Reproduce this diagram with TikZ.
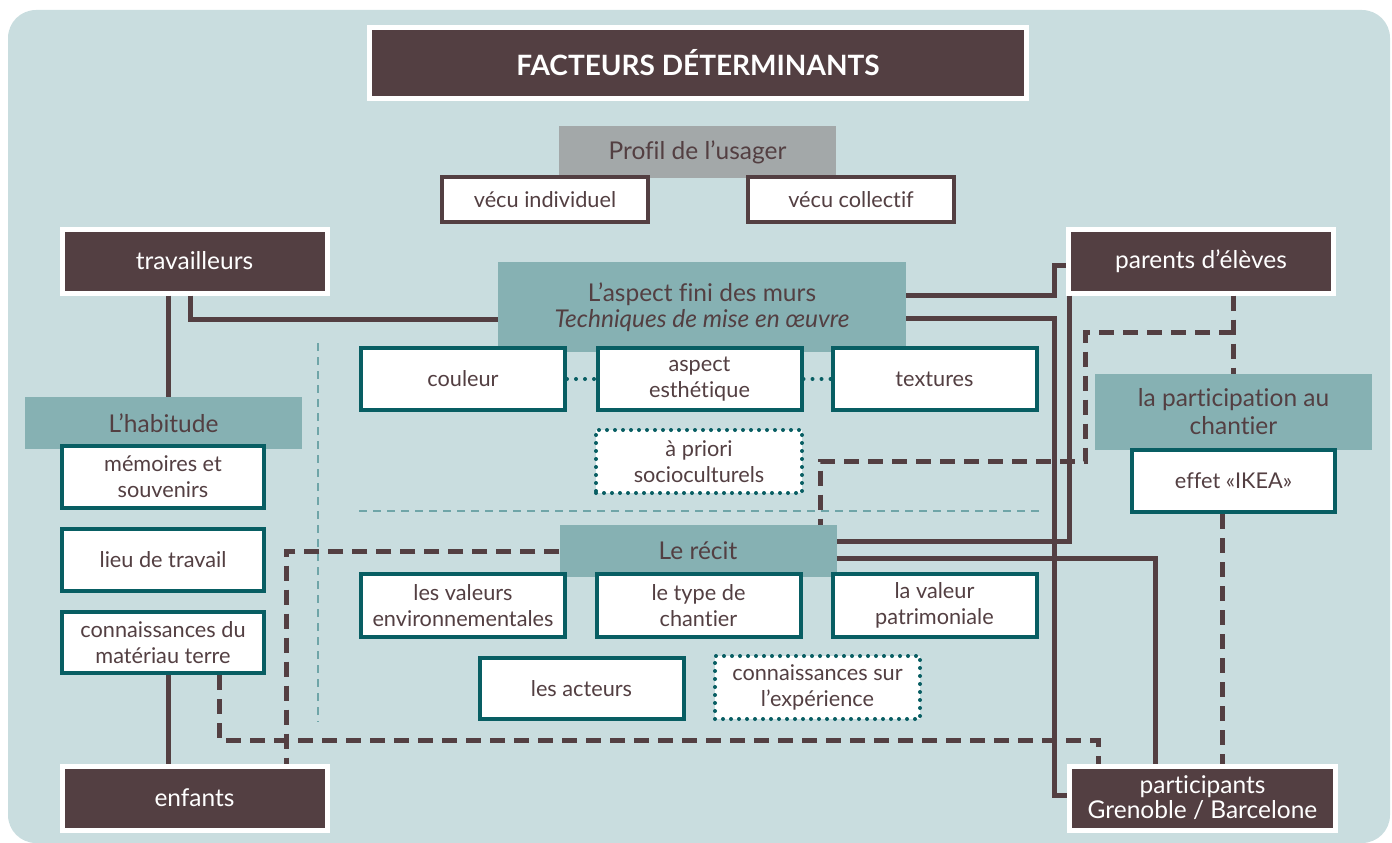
\documentclass[tikz,border=0pt]{standalone}
\usepackage{fontspec}
\setmainfont{Lato}[Ligatures=NoCommon]
\usetikzlibrary{calc}

\definecolor{fond}{RGB}{201,221,223}
\definecolor{brun}{RGB}{83,63,66}
\definecolor{sarcelle}{RGB}{134,177,179}
\definecolor{bordure}{RGB}{8,94,99}
\definecolor{gris}{RGB}{163,168,169}
\definecolor{guidecol}{RGB}{111,165,168}

\begin{document}
\begin{tikzpicture}[x=1pt,y=-1pt,
    every node/.style={font=\fontsize{21.7}{26}\selectfont, text=brun, align=center, inner sep=0pt},
    acteur/.style={fill=brun, draw=white, line width=5pt, text=white,
      minimum width=265, minimum height=64, font=\fontsize{24.5}{25}\selectfont},
    entete/.style={fill=sarcelle, minimum width=277, minimum height=52,
      font=\fontsize{24.5}{28}\selectfont},
    facteur/.style={fill=white, draw=bordure, line width=4pt,
      minimum width=204, minimum height=62},
    vecu/.style={fill=white, draw=brun, line width=4pt,
      minimum width=206, minimum height=45},
    indirect/.style={fill=white, draw=bordure, line width=4pt, line cap=round,
      dash pattern=on 0pt off 8pt, minimum width=206, minimum height=63},
    lien/.style={draw=brun, line width=5pt},
    tiret/.style={draw=brun, line width=5pt, dash pattern=on 15pt off 9pt},
    pointil/.style={draw=bordure, line width=4pt, line cap=round, dash pattern=on 0pt off 9pt},
    guide/.style={draw=guidecol, line width=2pt, dash pattern=on 8pt off 6pt}]

  \useasboundingbox (0,0) rectangle (1392,843);
  \fill[fond, rounded corners=28pt] (8,10) rectangle (1390,843);

  % reperes
  \draw[guide] (318,343) -- (318,722);
  \draw[guide] (359,511) -- (1040,511);

  \node[acteur, minimum width=657, minimum height=71, font=\fontsize{28}{30}\selectfont\bfseries]
    (titre) at (698,63) {FACTEURS DÉTERMINANTS};

  \node[entete, fill=gris] (profil) at (697.5,152) {Profil de l’usager};
  \node[vecu] (indiv) at (545,199.5) {vécu individuel};
  \node[vecu] (collec) at (851,199.5) {vécu collectif};

  \node[acteur] (trav) at (194.5,261) {travailleurs};
  \node[acteur] (parents) at (1201,261) {parents d’élèves};
  \node[acteur] (enfants) at (194.5,798) {enfants};
  \node[acteur, minimum width=266] (particip) at (1202.5,798) {participants\\Grenoble / Barcelone};

  \node[entete, minimum width=408, minimum height=90, font=\fontsize{24.5}{26}\selectfont]
    (aspect) at (702,307) {L’aspect fini des murs\\\textit{Techniques de mise en œuvre}};
  \node[facteur] (couleur) at (463,379) {couleur};
  \node[facteur] (esthet) at (699.5,379) {aspect\\esthétique};
  \node[facteur] (textures) at (934.5,379) {textures};
  \node[indirect] (apriori) at (699,461.5) {à priori\\socioculturels};

  \node[entete] (recit) at (698,551) {Le récit};
  \node[facteur, minimum height=63] (valenv) at (463,605.5) {les valeurs\\environnementales};
  \node[facteur, minimum height=63] (type) at (698.5,605.5) {le type de\\chantier};
  \node[facteur, minimum height=63] (patrim) at (934.5,605.5) {la valeur\\patrimoniale};
  \node[facteur, minimum height=61] (acteurs) at (581.5,688.5) {les acteurs};
  \node[indirect, minimum width=205, minimum height=63] (exper) at (817.5,687.5)
    {connaissances sur\\l’expérience};

  \node[entete] (habit) at (163.5,423) {L’habitude};
  \node[facteur, minimum width=202] (memoire) at (163,477) {mémoires et\\souvenirs};
  \node[facteur, minimum width=202] (lieu) at (163,560) {lieu de travail};
  \node[facteur, minimum width=202, minimum height=61] (terre) at (163,642.5)
    {connaissances du\\matériau terre};

  \node[entete, minimum height=76] (partic) at (1233.5,412) {la participation au\\chantier};
  \node[facteur, minimum width=203] (ikea) at (1233.5,481) {effet «IKEA»};

  \path[pointil]
    (couleur) edge (esthet)
    (esthet) edge (textures);

  % liens directs
  \coordinate (th) at ([xshift=-26]trav.south);
  \coordinate (ta) at ([xshift=-4]trav.south);
  \coordinate (te) at ([xshift=5]terre.south);
  \coordinate (k1) at (1054,265);
  \coordinate (k2) at (1054,795);
  \coordinate (k3) at ([xshift=-132]parents.south);
  \coordinate (k4) at ([xshift=-47.5]particip.north);
  \draw[lien] (th) -- (th |- habit.north);
  \draw[lien] (ta) |- ([yshift=-12]aspect.west);
  \draw[lien] (te) -- (te |- enfants.north);
  \draw[lien] ([yshift=12]aspect.east) -| (k1) -- (k1 -| parents.west);
  \draw[lien] ([yshift=-11]aspect.east) -| (k2) -- (k2 -| particip.west);
  \draw[lien] (k3) |- ([yshift=10]recit.east);
  \draw[lien] ([yshift=-7]recit.east) -| (k4);

  % liens indirects
  \coordinate (k5) at (1085,332);
  \coordinate (k6) at (820,461);
  \coordinate (k7) at ([xshift=-11]ikea.south);
  \coordinate (k8) at ([xshift=91.5]enfants.north);
  \coordinate (k9) at ([xshift=56]terre.south);
  \coordinate (k10) at (1098,740);
  \draw[tiret] (parents.south -| partic.north) -- (partic.north);
  \draw[tiret] (k5 -| partic.north) -- (k5) |- (k6) -- (k6 |- recit.north);
  \draw[tiret] (k7) -- (k7 |- particip.north);
  \draw[tiret] (recit.west) -| (k8);
  \draw[tiret] (k9) |- (k10) -- (k10 |- particip.north);
\end{tikzpicture}
\end{document}
